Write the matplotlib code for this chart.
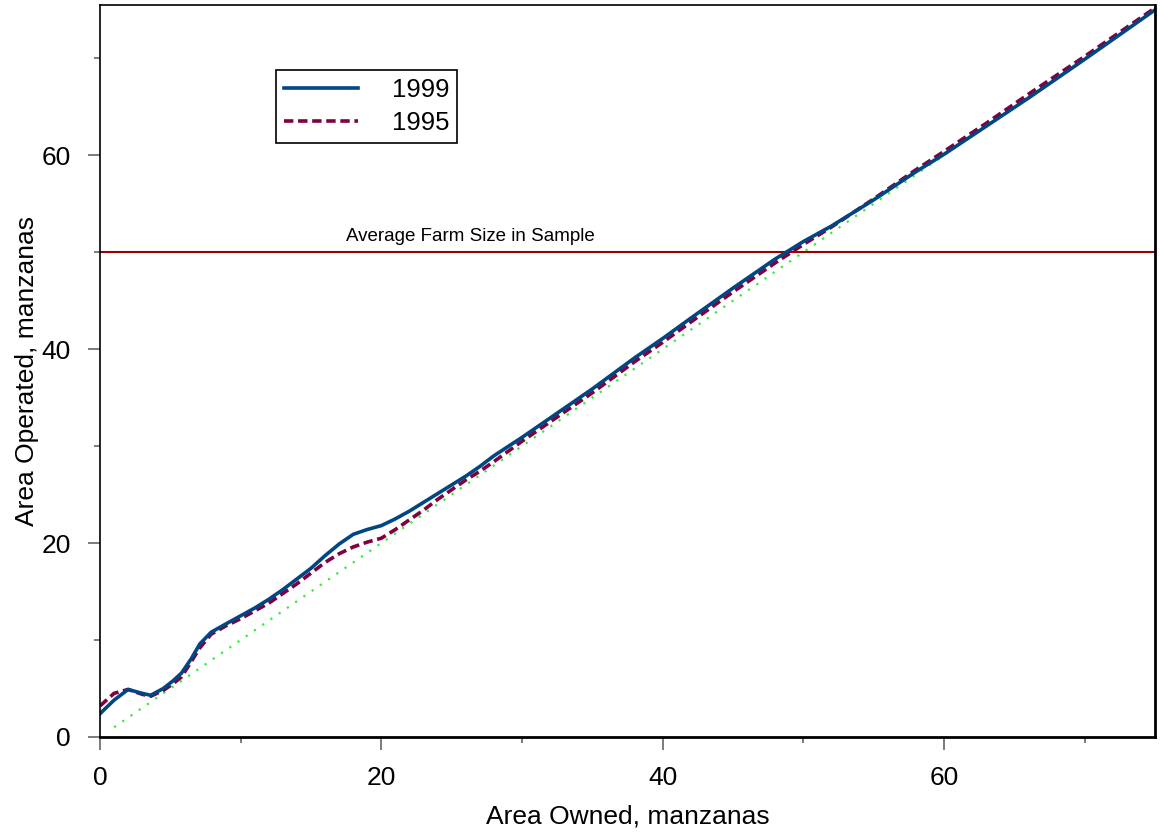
import matplotlib.pyplot as plt
from matplotlib.ticker import MultipleLocator

plt.rcParams['font.family'] = ['Liberation Sans', 'DejaVu Sans']

# Area owned (manzanas) at which the curves were read
owned = [0, 1, 2, 3, 3.6, 4.5, 5.2, 5.8, 6.5, 7.1, 7.9, 9, 10, 11, 12, 13, 14, 15,
         16, 17, 18, 19, 20, 21, 22, 23, 24, 25, 26, 27, 28, 30, 32, 35, 38, 40,
         42, 45, 48, 50, 52, 55, 58, 60, 63, 66, 70, 75]

# Area operated, 1999
op_1999 = [2.4, 3.8, 4.9, 4.5, 4.3, 5.0, 5.8, 6.6, 8.1, 9.6, 10.8, 11.7, 12.5, 13.3,
           14.2, 15.2, 16.3, 17.4, 18.7, 19.9, 20.9, 21.4, 21.8, 22.5, 23.3, 24.2,
           25.1, 26.0, 26.9, 27.9, 29.0, 30.9, 32.9, 35.9, 39.1, 41.1, 43.2, 46.3,
           49.3, 51.1, 52.7, 55.4, 58.3, 60.1, 63.0, 65.9, 69.9, 75.0]

# Area operated, 1995
op_1995 = [3.2, 4.5, 4.9, 4.4, 4.2, 4.8, 5.5, 6.2, 7.8, 9.2, 10.6, 11.5, 12.2, 13.0,
           13.8, 14.8, 15.8, 16.9, 18.0, 18.9, 19.6, 20.1, 20.5, 21.4, 22.4, 23.4,
           24.5, 25.5, 26.5, 27.4, 28.4, 30.5, 32.5, 35.5, 38.7, 40.7, 42.8, 45.9,
           48.9, 50.8, 52.6, 55.5, 58.5, 60.4, 63.3, 66.3, 70.2, 75.2]

# 45-degree reference line and sample mean farm size
diag = [1, 75]
avg_farm = 50

fig = plt.figure(figsize=(11.6, 8.35), dpi=100)
ax = fig.add_axes([0.0862, 0.1174, 0.9095, 0.8766])

ax.plot(diag, diag, color='#33ee33', linestyle=(0, (1, 3.5)), linewidth=1.6)
ax.axhline(avg_farm, color='#990000', linewidth=1.5)
ax.text(17.5, avg_farm + 0.7, 'Average Farm Size in Sample', fontsize=13.5,
        va='bottom', ha='left')
ax.plot(owned, op_1995, color='#800040', linestyle=(0, (2.6, 1.3)), linewidth=2.6,
        label='1995')
ax.plot(owned, op_1999, color='#004682', linewidth=2.6, label='1999')

ax.set_xlim(0, 75)
ax.set_ylim(0, 75.5)
ax.xaxis.set_major_locator(MultipleLocator(20))
ax.xaxis.set_minor_locator(MultipleLocator(10))
ax.yaxis.set_major_locator(MultipleLocator(20))
ax.yaxis.set_minor_locator(MultipleLocator(10))
ax.tick_params(which='major', length=9, width=1.2, color='#666666',
               labelsize=19, pad=12)
ax.tick_params(which='minor', length=4.5, width=1.2, color='#666666')

ax.set_xlabel('Area Owned, manzanas', fontsize=19, labelpad=10)
ax.set_ylabel('Area Operated, manzanas', fontsize=19, labelpad=2)

for side in ['bottom', 'right']:
    ax.spines[side].set_linewidth(2)
ax.spines['left'].set_linewidth(1.2)
ax.spines['top'].set_linewidth(1.2)

handles, labels = ax.get_legend_handles_labels()
leg = ax.legend(handles[::-1], labels[::-1], loc='upper left',
                bbox_to_anchor=(0.167, 0.911), fontsize=18.5, fancybox=False,
                framealpha=1, edgecolor='black', handlelength=2.9,
                borderaxespad=0, handletextpad=1.3, borderpad=0.3,
                labelspacing=0.35)
leg.get_frame().set_linewidth(1.2)

fig.savefig('out.png', dpi=100)
